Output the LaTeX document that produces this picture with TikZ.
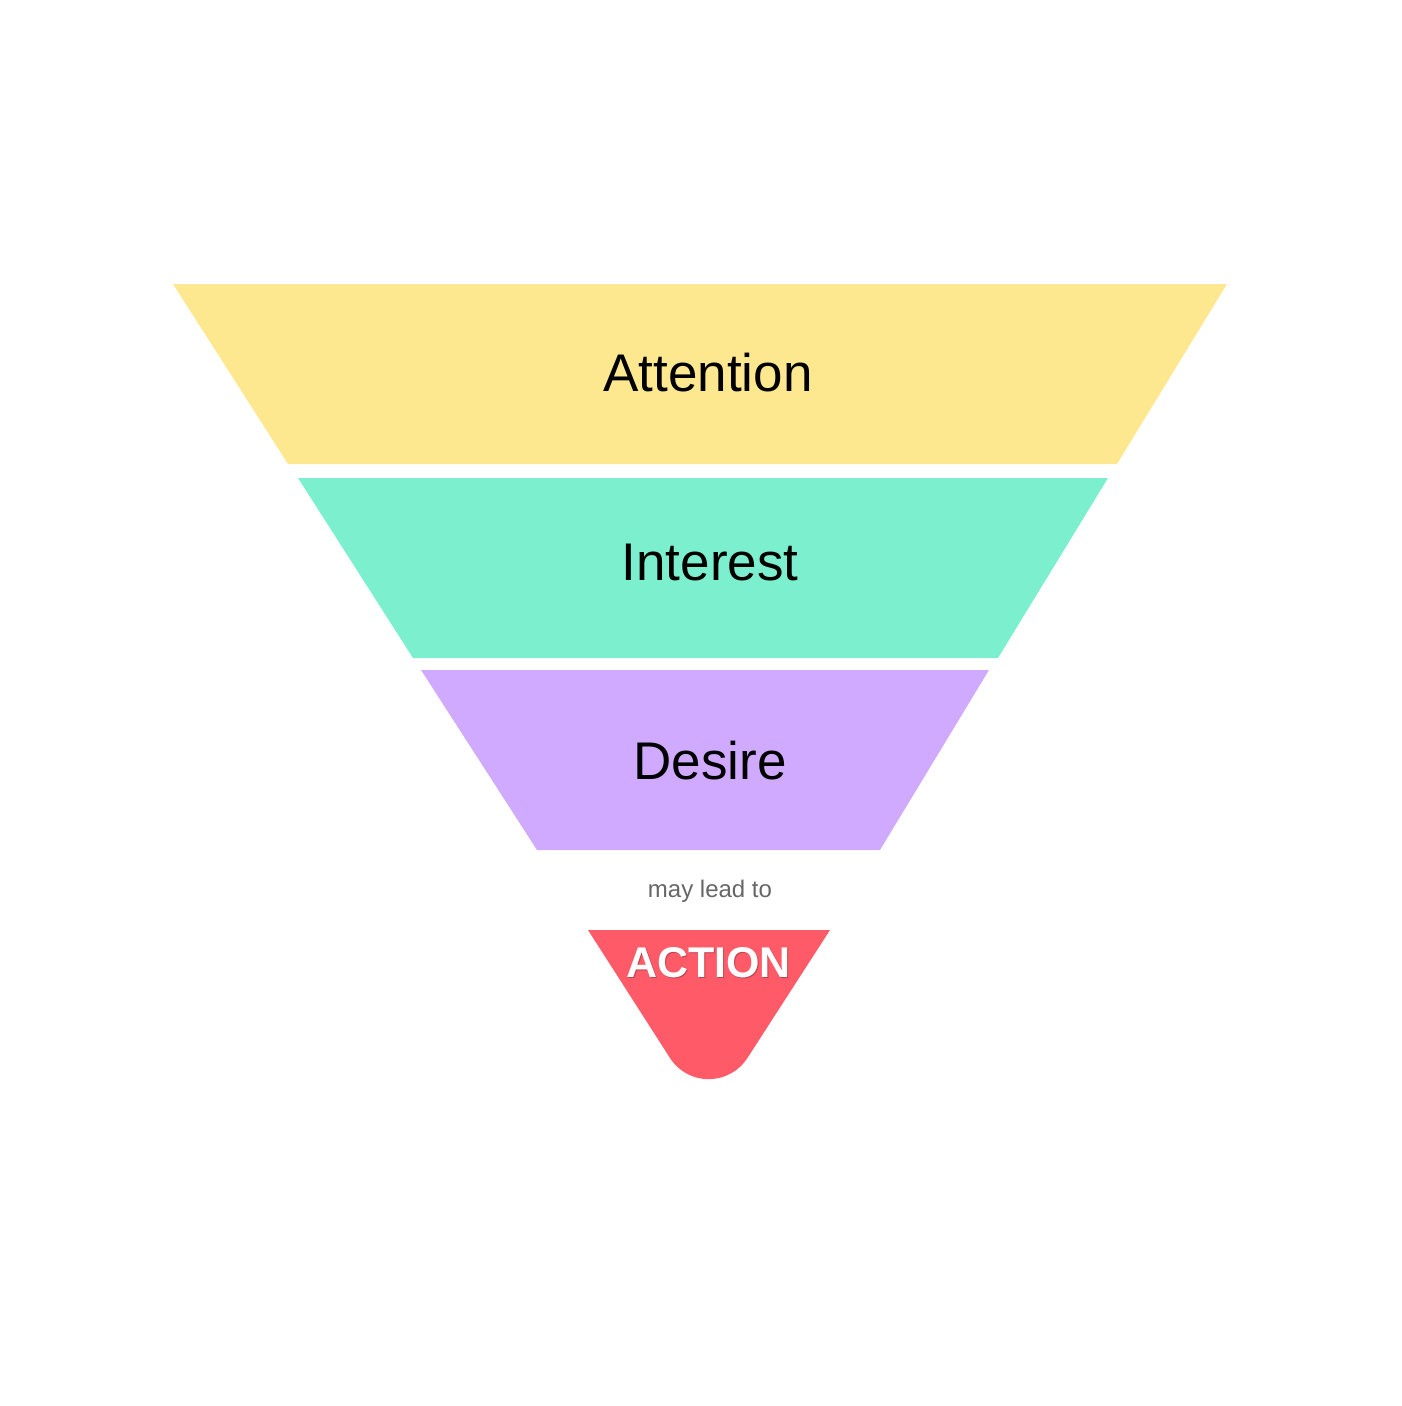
\documentclass[tikz,border=0pt]{standalone}
\usepackage{fontspec}
\setmainfont{Liberation Sans}
\usepackage{tikz}
\usetikzlibrary{positioning}
\definecolor{attcol}{HTML}{FEE88F}
\definecolor{intcol}{HTML}{7CF0CE}
\definecolor{descol}{HTML}{D0AAFE}
\definecolor{actcol}{HTML}{FF5A67}
\definecolor{leadcol}{HTML}{666666}
\tikzset{stage/.style={anchor=base, inner sep=0pt, font=\fontsize{53}{60}\selectfont}}

\begin{document}
\begin{tikzpicture}[x=1pt,y=-1pt]
\useasboundingbox (0,0) rectangle (1401,1406);
\fill[attcol] (173,284) -- (1227,284) -- (1117,464) -- (288,464) -- cycle; \fill[intcol] (298,478) -- (1108,478) -- (998,658) -- (413,658) -- cycle; \fill[descol] (421,670) -- (989,670) -- (880,850) -- (537,850) -- cycle;
% rounded tip of the action funnel
\fill[actcol] (588,930) -- (670,1058) arc[start angle=147.3, end angle=32.7, radius=46] -- (830,930) -- cycle;
\node[stage] (att) at (708,391) {Attention}; \node[stage] (int) at (710,580) {Interest}; \node[stage] (des) at (710,779) {Desire};
\node[anchor=base, inner sep=0pt, text=leadcol, font=\fontsize{24}{28}\selectfont] (lead) at (710,897) {may lead to};
\node[anchor=base, inner sep=0pt, text=black, opacity=.25, font=\fontsize{43}{50}\bfseries] (actsh) at (709.5,978.5) {ACTION};
\node[anchor=base, inner sep=0pt, text=white, font=\fontsize{43}{50}\bfseries] (act) at (708.5,977) {ACTION};
\end{tikzpicture}
\end{document}
